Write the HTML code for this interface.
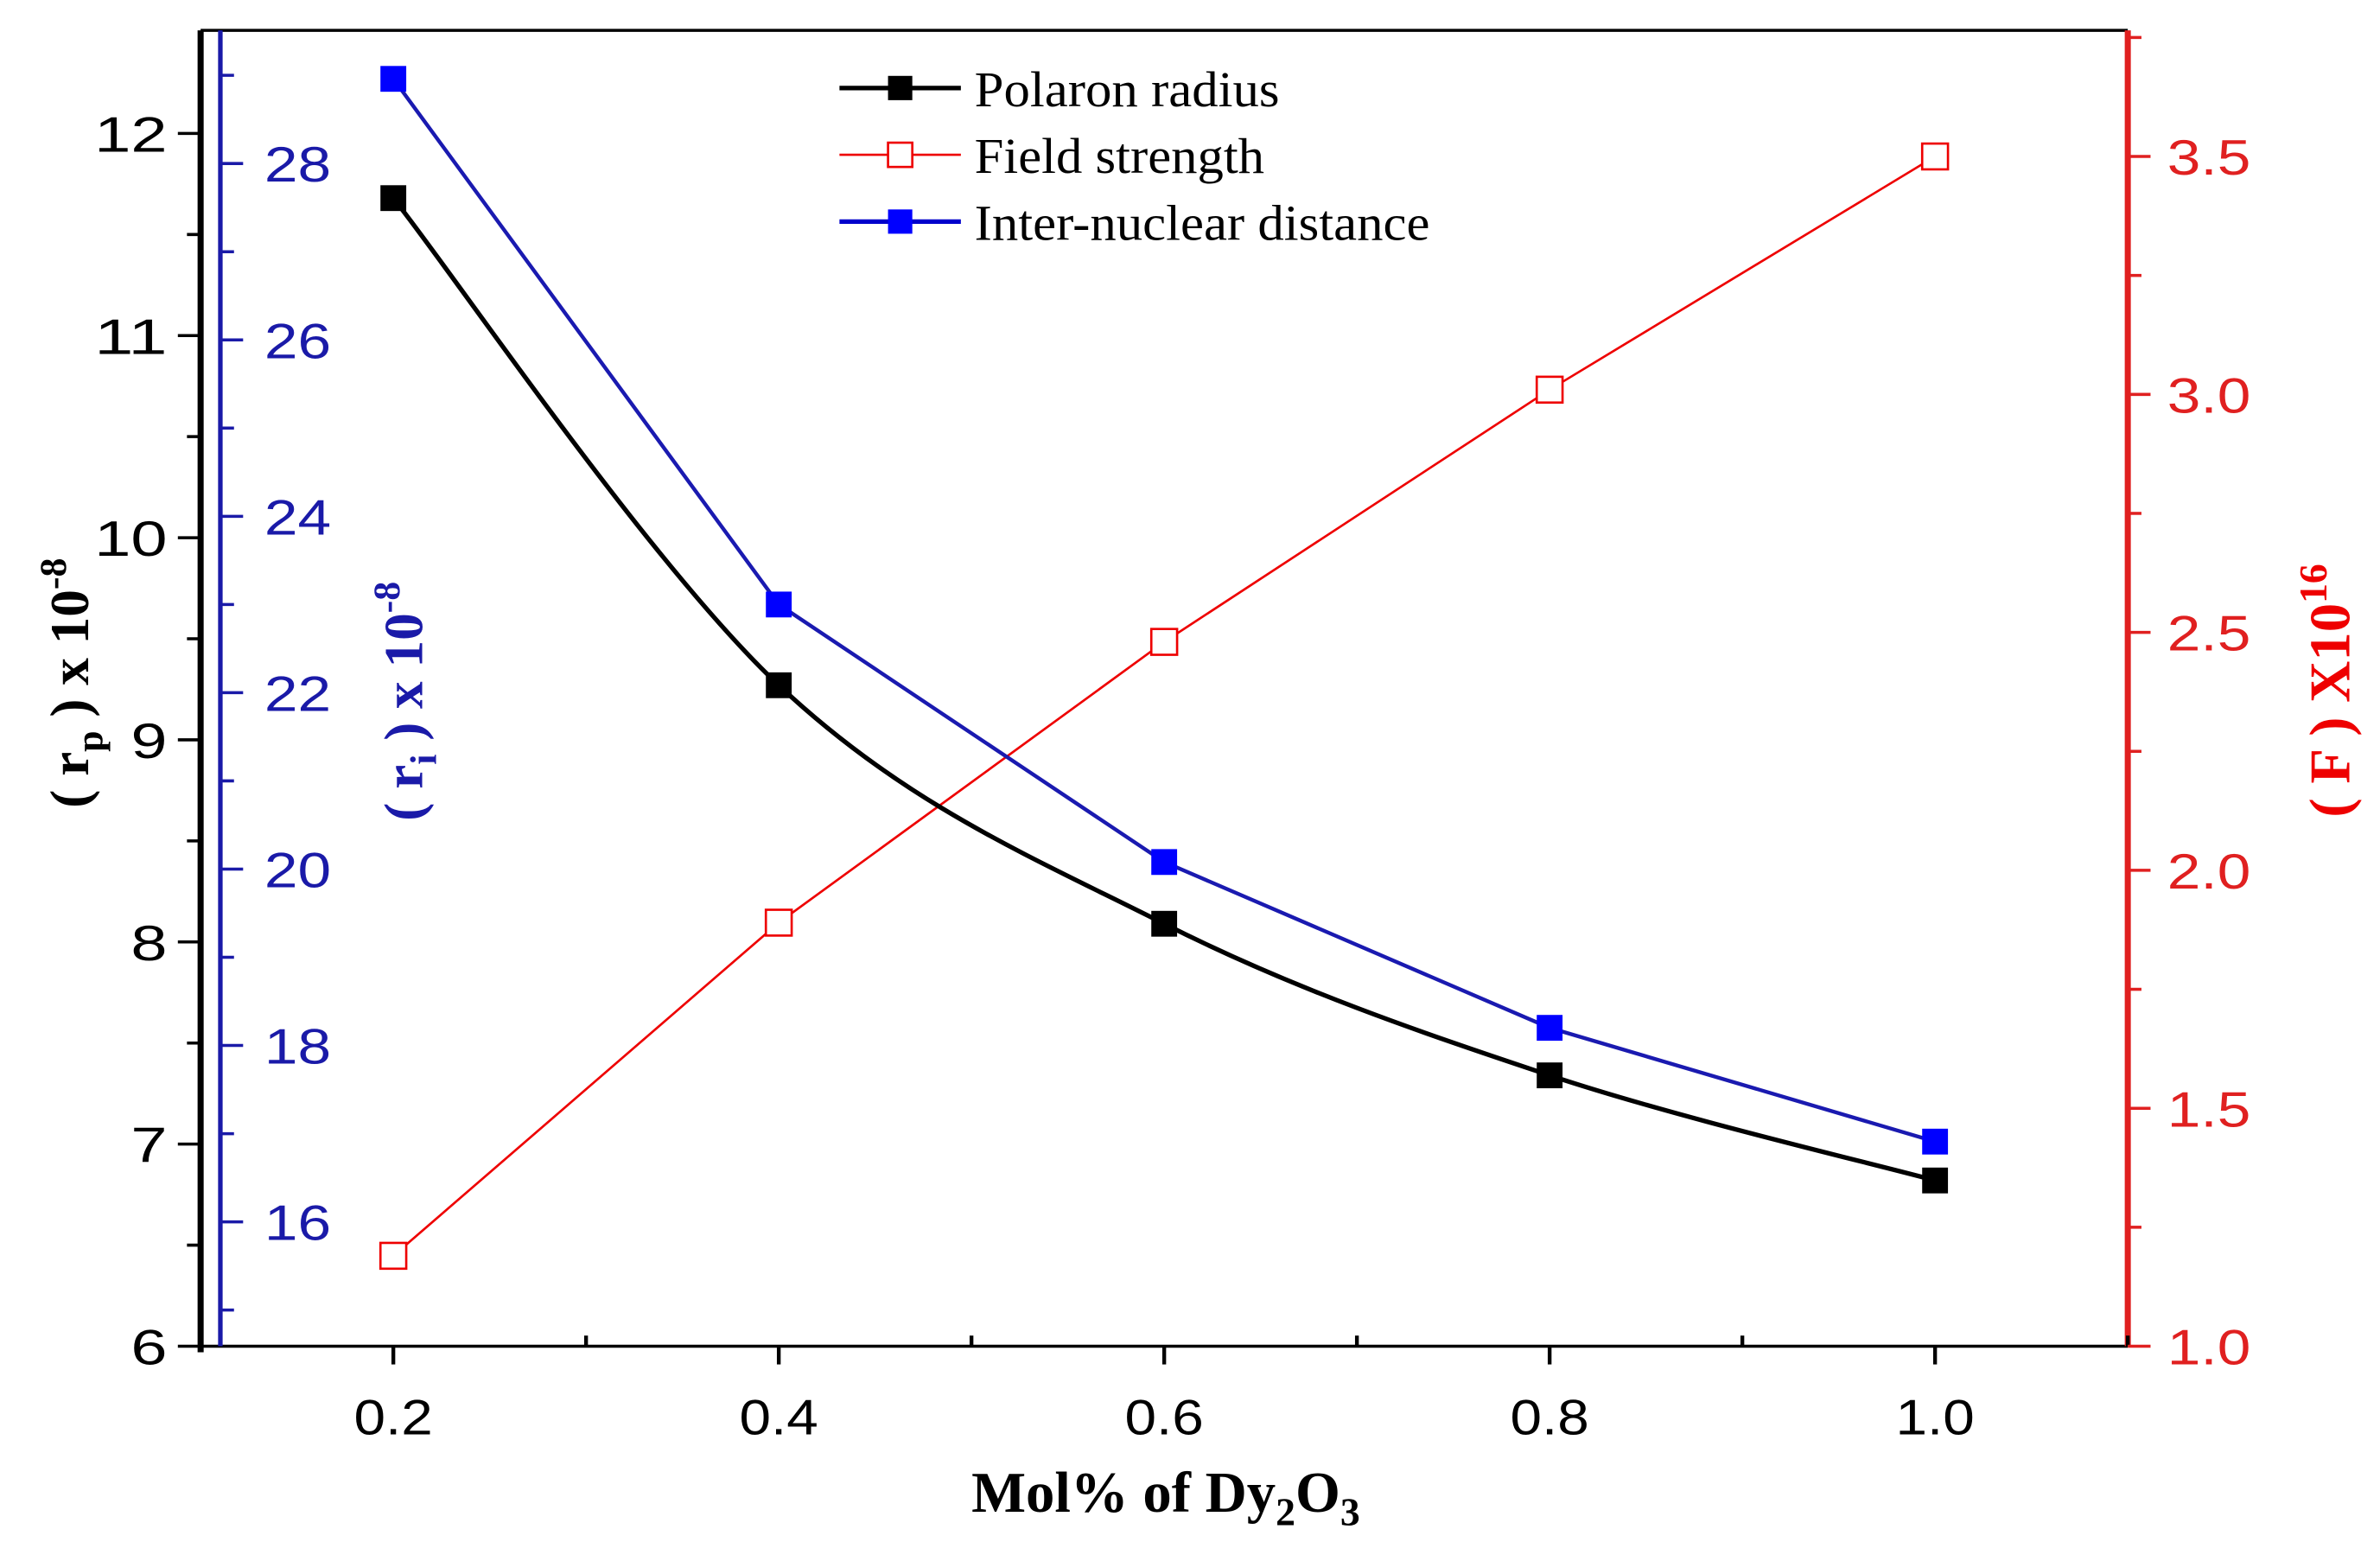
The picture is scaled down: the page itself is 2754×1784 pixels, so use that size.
<!DOCTYPE html>
<html><head><meta charset="utf-8"><style>
html,body{margin:0;padding:0;background:#fff;}
svg{display:block;}
</style></head><body>
<svg id="chart" width="2754" height="1784" viewBox="0 0 1568 1016" xmlns="http://www.w3.org/2000/svg">
<g id="axes"></g>
<g id="marks"></g>
<g id="legend" font-family="'Liberation Serif',serif" font-size="33" fill="#000">
  <g>
    <line x1="553" y1="58" x2="633" y2="58" stroke="#000" stroke-width="3"/>
    <rect x="585" y="50" width="16" height="16" fill="#000"/>
    <text x="642" y="70" textLength="201" lengthAdjust="spacingAndGlyphs">Polaron radius</text>
  </g>
  <g>
    <line x1="553" y1="102" x2="633" y2="102" stroke="#e00" stroke-width="1.5"/>
    <rect x="585" y="94" width="16" height="16" fill="#fff" stroke="#e00" stroke-width="1.5"/>
    <text x="642" y="114" textLength="191" lengthAdjust="spacingAndGlyphs">Field strength</text>
  </g>
  <g>
    <line x1="553" y1="146" x2="633" y2="146" stroke="#00c" stroke-width="3"/>
    <rect x="585" y="138" width="16" height="16" fill="#00f"/>
    <text x="642" y="158" textLength="300" lengthAdjust="spacingAndGlyphs">Inter-nuclear distance</text>
  </g>
</g>
<g font-family="'Liberation Serif',serif" font-weight="bold">
  <text x="768" y="996" font-size="38" text-anchor="middle">Mol% of Dy<tspan font-size="26" dy="9">2</tspan><tspan dy="-9">O</tspan><tspan font-size="26" dy="9">3</tspan></text>
  <text transform="translate(58,450) rotate(-90)" font-size="36" text-anchor="middle">( r<tspan font-size="25" dy="9">p</tspan><tspan dy="-9"> ) x 10</tspan><tspan font-size="25" dy="-15">-8</tspan></text>
  <text transform="translate(278,462) rotate(-90)" font-size="36" text-anchor="middle" fill="#1a1aa8">( r<tspan font-size="25" dy="9">i</tspan><tspan dy="-9"> ) x 10</tspan><tspan font-size="25" dy="-15">-8</tspan></text>
  <text transform="translate(1548,455) rotate(-90)" font-size="38" text-anchor="middle" fill="#e00">( F ) X10<tspan font-size="26" dy="-15">16</tspan></text>
</g>
</svg>
<script>
const categories = [0.2, 0.4, 0.6, 0.8, 1.0];
const polaronRadius = [11.68, 9.27, 8.09, 7.34, 6.82];
const interNuclear = [28.96, 23.0, 20.08, 18.2, 16.91];
const fieldStrength = [1.19, 1.89, 2.48, 3.01, 3.50];
const xTicks = [0.2, 0.4, 0.6, 0.8, 1.0];
const xTickLabels = ["0.2", "0.4", "0.6", "0.8", "1.0"];
const leftTicks = [6, 7, 8, 9, 10, 11, 12];
const blueTicks = [16, 18, 20, 22, 24, 26, 28];
const rightTicks = [1.0, 1.5, 2.0, 2.5, 3.0, 3.5];
const rightTickLabels = ["1.0", "1.5", "2.0", "2.5", "3.0", "3.5"];

const L = 132, R = 1402, T = 20, B = 887, BX = 145;
const xMin = 0.1, xMax = 1.1;
const lMin = 6, lMax = 12.51;
const bMin = 14.59, bMax = 29.51;
const rMin = 1.0, rMax = 3.765;
const sx = v => L + (v - xMin) / (xMax - xMin) * (R - L);
const syL = v => B - (v - lMin) / (lMax - lMin) * (B - T);
const syB = v => B - (v - bMin) / (bMax - bMin) * (B - T);
const syR = v => B - (v - rMin) / (rMax - rMin) * (B - T);

const NS = "http://www.w3.org/2000/svg";
const axes = document.getElementById('axes');
const marks = document.getElementById('marks');
function mk(tag, attrs, parent) {
  const e = document.createElementNS(NS, tag);
  for (const k in attrs) e.setAttribute(k, attrs[k]);
  parent.appendChild(e);
  return e;
}
const SANS = "'Liberation Sans',sans-serif";
const FS = 33;
function label(x, y, txt, anchor, fill, w) {
  const t = mk('text', {x: x, y: y, 'font-family': SANS, 'font-size': FS, 'text-anchor': anchor, fill: fill, textLength: w, lengthAdjust: 'spacingAndGlyphs'}, axes);
  t.textContent = txt;
  return t;
}

// frame
let e = mk('line', {x1: L, y1: T, x2: R, y2: T, stroke: '#000', 'stroke-width': 2}, axes);


e = mk('line', {x1: L, y1: B, x2: R, y2: B, stroke: '#000', 'stroke-width': 2}, axes);


e = mk('line', {x1: L, y1: T, x2: L, y2: B + 4, stroke: '#000', 'stroke-width': 4}, axes);


e = mk('line', {x1: BX, y1: T, x2: BX, y2: B, stroke: '#1a1aa8', 'stroke-width': 3}, axes);


e = mk('line', {x1: R, y1: T, x2: R, y2: B, stroke: '#e02020', 'stroke-width': 4}, axes);



// x ticks
for (let v = 0.1; v <= 1.1001; v += 0.1) {
  const isMajor = xTicks.some(t => Math.abs(t - v) < 1e-6);
  const x = sx(v);
  e = mk('line', {x1: x, y1: B, x2: x, y2: isMajor ? B + 12 : B - 7, stroke: '#000', 'stroke-width': 2.5}, axes);
  
  
}
xTicks.forEach((v, i) => {
  e = label(sx(v), B + 58, xTickLabels[i], 'middle', '#000', 52);
  
  
});

// left ticks
for (let v = 6; v <= 12.001; v += 0.5) {
  const major = Math.abs(v - Math.round(v)) < 1e-6;
  e = mk('line', {x1: L, y1: syL(v), x2: L - (major ? 15 : 9), y2: syL(v), stroke: '#000', 'stroke-width': 2}, axes);
  
  
}
leftTicks.forEach(v => {
  const s = String(v);
  e = label(L - 22, syL(v) + 12, s, 'end', '#000', s.length * 24);
  
  
});

// blue ticks
for (let v = 15; v <= 29.001; v += 1) {
  const major = v % 2 === 0;
  e = mk('line', {x1: BX, y1: syB(v), x2: BX + (major ? 15 : 9), y2: syB(v), stroke: '#1a1aa8', 'stroke-width': 2}, axes);
  
  
}
blueTicks.forEach(v => {
  e = label(218, syB(v) + 12, String(v), 'end', '#1a1aa8', 44);
  
  
});

// right ticks
for (let v = 1.0; v <= 3.7501; v += 0.25) {
  const major = Math.abs(v * 2 - Math.round(v * 2)) < 1e-6;
  e = mk('line', {x1: R, y1: syR(v), x2: R + (major ? 15 : 9), y2: syR(v), stroke: '#e02020', 'stroke-width': 2}, axes);
  
  
}
rightTicks.forEach((v, i) => {
  e = label(R + 26, syR(v) + 12, rightTickLabels[i], 'start', '#e02020', 55);
  
  
});

// series
function straight(vals, sy) {
  return vals.map((v, i) => (i ? 'L' : 'M') + sx(categories[i]) + ' ' + sy(v)).join(' ');
}
function smooth(vals, sy) {
  const p = vals.map((v, i) => [sx(categories[i]), sy(v)]);
  let d = 'M' + p[0][0] + ' ' + p[0][1];
  for (let i = 0; i < p.length - 1; i++) {
    const p0 = p[Math.max(0, i - 1)], p1 = p[i], p2 = p[i + 1], p3 = p[Math.min(p.length - 1, i + 2)];
    const c1 = [p1[0] + (p2[0] - p0[0]) / 6, p1[1] + (p2[1] - p0[1]) / 6];
    const c2 = [p2[0] - (p3[0] - p1[0]) / 6, p2[1] - (p3[1] - p1[1]) / 6];
    d += ` C${c1[0]} ${c1[1]} ${c2[0]} ${c2[1]} ${p2[0]} ${p2[1]}`;
  }
  return d;
}
e = mk('path', {d: straight(fieldStrength, syR), fill: 'none', stroke: '#e00', 'stroke-width': 1.5}, marks);


e = mk('path', {d: smooth(polaronRadius, syL), fill: 'none', stroke: '#000', 'stroke-width': 3}, marks);


e = mk('path', {d: straight(interNuclear, syB), fill: 'none', stroke: '#1a1ab0', 'stroke-width': 2.5}, marks);



const S = 17;
fieldStrength.forEach((v, i) => {
  e = mk('rect', {x: sx(categories[i]) - S / 2, y: syR(v) - S / 2, width: S, height: S, fill: '#fff', stroke: '#e00', 'stroke-width': 1.5}, marks);
  
  
});
polaronRadius.forEach((v, i) => {
  e = mk('rect', {x: sx(categories[i]) - S / 2, y: syL(v) - S / 2, width: S, height: S, fill: '#000'}, marks);
  
  
});
interNuclear.forEach((v, i) => {
  e = mk('rect', {x: sx(categories[i]) - S / 2, y: syB(v) - S / 2, width: S, height: S, fill: '#00f'}, marks);
  
  
});
</script>
</body></html>
